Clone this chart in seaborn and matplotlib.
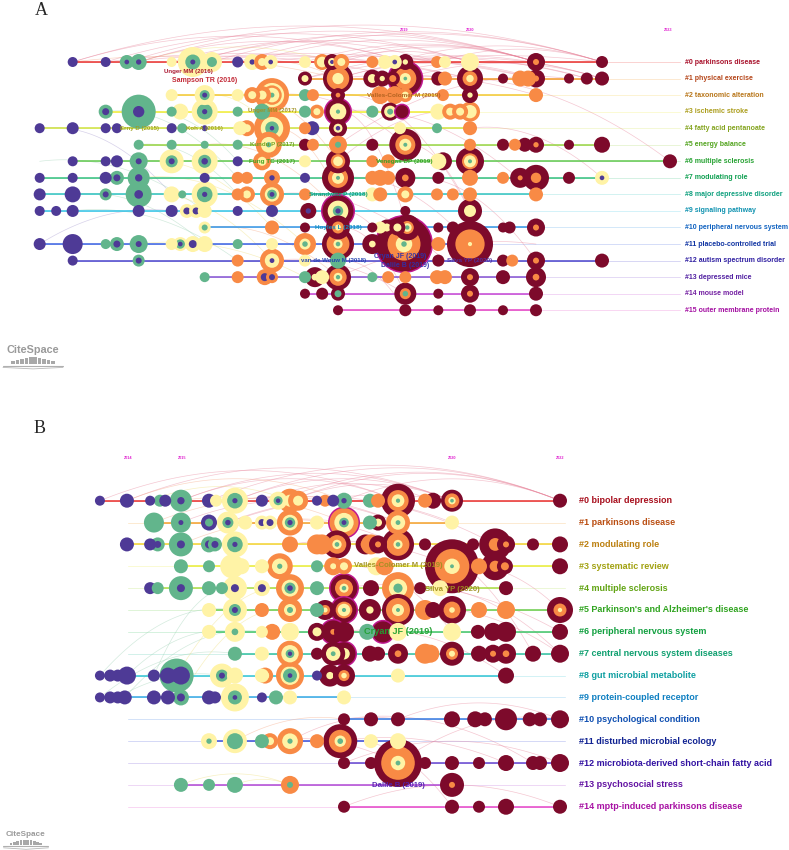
import numpy as np
import pandas as pd
import matplotlib
matplotlib.use("Agg")
import matplotlib.pyplot as plt
import seaborn as sns

sns.set_theme(style="white")
plt.rcParams["font.family"] = ["Liberation Sans", "DejaVu Sans"]

# ---------------- colours ----------------
RING_COLORS = {"P": "#4E3A96", "G": "#62B58C", "Y": "#FFF3A6", "O": "#F88A45",
               "R": "#7D0A2B", "M": "#BF1890"}
LINK_COLORS = {"P": "#A69AD0", "G": "#9ED2B5", "Y": "#EFDF7A", "O": "#F6A682", "R": "#E8839A"}

# ---------------- panel A data ----------------
A_LABELS = ["#0 parkinsons disease", "#1 physical exercise", "#2 taxonomic alteration",
            "#3 ischemic stroke", "#4 fatty acid pentanoate", "#5 energy balance",
            "#6 multiple sclerosis", "#7 modulating role", "#8 major depressive disorder",
            "#9 signaling pathway", "#10 peripheral nervous system", "#11 placebo-controlled trial",
            "#12 autism spectrum disorder", "#13 depressed mice", "#14 mouse model",
            "#15 outer membrane protein"]
A_LABEL_COLORS = ["#A8102A", "#B5461A", "#B8761A", "#AC9E1E", "#84A41E", "#52A41E",
                  "#26A232", "#10A052", "#0FA07E", "#0F92B0", "#1062C0", "#1034A2",
                  "#3020A2", "#5222A2", "#7420A2", "#A410A2"]
A_LINE_COLORS = ["#E8302E", "#F39A2B", "#F2C830", "#F0EC36", "#CFE23E", "#98D444",
                 "#62C850", "#34C07E", "#30C2C0", "#34C4E6", "#3494E4", "#3A62E2",
                 "#4A44CC", "#8452D2", "#C444D4", "#E442C4"]
A_YEARS = [2019, 2020, 2023]

# nodes: (year - 2000, radius_px, rings outer->inner)
A_N0 = [(13.98, 5, "P"), (14.48, 5, "P"), (14.80, 7, "GGP"), (14.98, 8, "GGP"), (15.48, 5, "Y"),
        (16.09, 10, "YG"), (15.80, 15, "YYYGGP"), (16.48, 5.5, "P"), (16.70, 8, "YYP"),
        (16.85, 8, "OY"), (16.98, 7, "YYP"), (17.5, 6, "Y"), (17.76, 8, "OYY"), (17.91, 8, "RRYP"),
        (18.05, 8, "OY"), (18.52, 6, "O"), (18.71, 7, "Y"), (18.86, 7, "YYP"), (19.02, 8, "RRY"),
        (19.5, 6, "O"), (19.62, 6, "Y"), (20.0, 9, "Y"), (21.0, 9, "RRO"), (22.0, 6, "R")]
A_N1 = [(17.5, 7, "RY"), (18.0, 15, "RROOOYYY"), (18.52, 9, "RY"), (18.67, 8, "RRY"), (18.83, 7, "RO"),
        (19.02, 18, "MRRROOOYYG"), (19.52, 7, "R"), (19.62, 7, "O"), (20.0, 13, "RRROOYY"),
        (20.5, 5, "R"), (20.76, 8, "O"), (20.88, 8, "O"), (21.0, 9, "RRO"), (21.5, 5, "R"),
        (21.77, 6, "R"), (22.0, 7, "R")]
A_N2 = [(15.48, 6, "Y"), (15.98, 10, "YYGP"), (16.48, 6, "Y"), (16.70, 8, "OY"), (16.85, 9, "OY"),
        (17.0, 17, "OOYOYYG"), (17.5, 6, "G"), (17.62, 6, "O"), (18.0, 7, "RRO"), (18.64, 9, "O"),
        (18.86, 9, "O"), (19.02, 7, "OY"), (19.59, 6, "O"), (20.0, 8, "RRY"), (21.0, 7, "O")]
A_N3 = [(14.48, 7, "GP"), (14.98, 17, "GGP"), (15.48, 5, "G"), (15.61, 8, "Y"), (15.98, 13, "YYGGP"),
        (16.48, 5, "G"), (16.85, 8, "G"), (17.5, 6, "G"), (17.68, 7, "OY"), (18.0, 14, "MRRYYYG"),
        (18.52, 6, "G"), (18.79, 9, "RYG"), (18.97, 8, "MRR"), (19.52, 8, "Y"), (19.70, 8, "OY"),
        (19.85, 8, "OY"), (20.0, 10, "OYY")]
A_N4 = [(13.48, 5, "P"), (13.98, 6, "P"), (14.48, 5, "P"), (14.65, 5, "P"), (15.48, 5, "P"),
        (15.64, 5, "G"), (15.98, 3, "P"), (16.52, 7, "Y"), (16.62, 8, "OY"), (17.0, 18, "OOOYYGGP"),
        (17.5, 6, "O"), (17.61, 7, "P"), (18.0, 9, "RRYP"), (18.94, 6, "Y"), (19.5, 5, "G"),
        (20.0, 7, "O")]
A_N5 = [(14.98, 5, "G"), (15.48, 5, "G"), (15.98, 4, "G"), (16.48, 5, "G"), (16.95, 13, "OOYYG"),
        (17.5, 6, "R"), (17.62, 6, "O"), (18.0, 9, "OOG"), (18.52, 6, "R"), (19.02, 16, "RRROOYYG"),
        (20.0, 6, "O"), (20.5, 6, "R"), (20.68, 6, "O"), (20.83, 7, "R"), (21.0, 8, "RRO"),
        (21.5, 5, "R"), (22.0, 8, "R")]
A_N6 = [(13.98, 5, "P"), (14.48, 5, "P"), (14.65, 6, "P"), (14.98, 9, "GGP"), (15.48, 12, "YYGP"),
        (15.98, 13, "YYGP"), (16.48, 5, "P"), (16.85, 9, "OY"), (17.5, 6, "Y"), (18.0, 12, "RROYY"),
        (18.52, 6, "O"), (18.76, 7, "O"), (19.52, 8, "Y"), (19.59, 9, "RRY"), (20.0, 14, "RRROYYG"),
        (23.03, 7, "R")]
A_N7 = [(13.48, 5, "P"), (13.98, 5, "P"), (14.48, 6, "P"), (14.65, 7, "GP"), (14.98, 11, "GGP"),
        (15.98, 5, "P"), (16.48, 6, "O"), (16.62, 6, "O"), (17.0, 8, "OOP"), (17.5, 5, "P"),
        (18.0, 16, "RRROOYYG"), (18.52, 7, "O"), (18.64, 8, "O"), (18.76, 7, "O"), (19.02, 10, "RRO"),
        (19.52, 6, "R"), (20.0, 8, "O"), (20.5, 6, "O"), (20.76, 10, "RRRO"), (21.0, 13, "RRROO"),
        (21.5, 6, "R"), (22.0, 7, "YYP")]
A_N8 = [(13.48, 6, "P"), (13.98, 8, "P"), (14.48, 6, "GP"), (14.98, 13, "GGP"), (15.48, 8, "Y"),
        (15.64, 4, "G"), (15.98, 13, "YYGGP"), (16.48, 6, "O"), (16.62, 8, "OY"), (17.0, 12, "OOYGP"),
        (17.5, 6, "O"), (18.52, 7, "Y"), (18.64, 7, "O"), (19.02, 8, "OY"), (19.5, 6, "O"),
        (19.74, 6, "O"), (20.0, 7, "O"), (21.0, 7, "O")]
A_N9 = [(13.48, 5, "P"), (13.73, 5, "P"), (13.98, 6, "P"), (14.98, 6, "P"), (15.48, 6, "P"),
        (15.71, 7, "YP"), (15.85, 7, "YP"), (15.98, 7, "Y"), (16.48, 5, "P"), (17.0, 6, "P"),
        (17.55, 8, "RRP"), (18.0, 17, "MRRYYGP"), (19.02, 5, "R"), (20.0, 12, "RRYY")]
A_N10 = [(15.98, 6, "YG"), (17.0, 7, "O"), (17.5, 5, "R"), (18.0, 12, "RROY"), (18.52, 5, "R"),
         (18.64, 6, "Y"), (18.74, 8, "RY"), (18.90, 8, "RY"), (19.05, 13, "RRROYG"), (19.52, 5, "R"),
         (19.74, 6, "R"), (20.5, 5, "R"), (20.6, 6, "R"), (21.0, 9, "RRO")]
A_N11 = [(13.48, 6, "P"), (13.98, 10, "P"), (14.48, 5, "G"), (14.65, 7, "GP"), (14.98, 9, "GGP"),
         (15.48, 6, "Y"), (15.61, 7, "YGP"), (15.80, 8, "YP"), (15.98, 8, "Y"), (16.48, 5, "G"),
         (17.0, 6, "Y"), (17.5, 11, "OOYG"), (18.0, 16, "RROOOYG"), (18.52, 10, "RRY"),
         (19.0, 29, "MRRRROOOYYG"), (19.52, 7, "O"), (20.0, 23, "RRRROOOOOOY")]
A_N12 = [(13.98, 5, "P"), (14.98, 6, "GP"), (16.48, 6, "O"), (17.0, 12, "OOYYP"), (17.5, 6, "Y"),
         (18.0, 8, "G"), (19.52, 6, "R"), (20.5, 6, "R"), (20.64, 6, "O"), (21.0, 9, "RRO"),
         (22.0, 7, "R")]
A_N13 = [(15.98, 5, "G"), (16.48, 6, "O"), (16.89, 8, "OP"), (17.0, 6, "OP"), (17.5, 6, "G"),
         (17.65, 10, "RRY"), (17.76, 7, "Y"), (18.0, 13, "RROOYG"), (18.52, 5, "G"), (18.76, 6, "O"),
         (19.02, 6, "O"), (19.5, 7, "O"), (19.62, 7, "O"), (20.0, 9, "RRO"), (20.5, 7, "R"),
         (21.0, 10, "RRO")]
A_N14 = [(17.5, 5, "R"), (17.76, 6, "R"), (18.0, 7, "RG"), (19.02, 11, "RROG"), (19.52, 5, "R"),
         (20.0, 9, "RRO"), (21.0, 7, "R")]
A_N15 = [(18.0, 5, "R"), (19.02, 6, "R"), (19.52, 5, "R"), (20.0, 6, "R"), (20.5, 5, "R"), (21.0, 6, "R")]
A_NODES = [A_N0, A_N1, A_N2, A_N3, A_N4, A_N5, A_N6, A_N7, A_N8, A_N9, A_N10, A_N11,
           A_N12, A_N13, A_N14, A_N15]

# citation links (row, year, row, year)
A_LINKS = [(0, 13.98, 0, 21.0), (0, 14.48, 0, 20.0), (0, 14.98, 0, 19.02), (0, 15.8, 0, 21.0),
           (0, 16.48, 0, 22.0), (0, 15.8, 1, 20.0), (0, 14.8, 1, 19.02), (0, 16.7, 1, 18.0),
           (0, 17.5, 0, 21.0), (0, 15.48, 1, 21.0), (0, 16.09, 0, 22.0), (0, 13.98, 1, 18.0),
           (1, 17.5, 1, 22.0), (1, 18.0, 1, 21.0), (1, 19.02, 1, 22.0), (0, 17.91, 0, 20.0),
           (0, 18.52, 1, 21.77), (1, 18.0, 2, 21.0), (0, 14.98, 0, 17.91), (0, 15.48, 0, 19.5),
           (0, 14.8, 0, 22.0), (0, 14.98, 0, 21.0), (0, 16.7, 0, 21.0), (0, 17.76, 0, 21.0),
           (0, 18.86, 0, 22.0), (0, 13.98, 0, 19.02), (0, 15.8, 0, 20.0), (1, 18.0, 1, 22.0),
           (1, 17.5, 0, 22.0), (0, 16.85, 1, 21.0), (0, 14.48, 1, 20.0), (1, 18.52, 1, 21.77),
           (0, 18.05, 0, 21.0), (0, 19.5, 0, 22.0),
           (4, 13.48, 8, 15.48), (6, 13.48, 9, 15.98), (3, 14.48, 7, 16.48), (11, 13.48, 9, 15.48),
           (8, 14.98, 12, 17.0), (5, 15.98, 9, 18.0), (2, 16.48, 6, 18.0), (3, 18.0, 10, 19.05),
           (7, 18.0, 11, 20.0), (4, 17.0, 8, 18.0), (9, 18.0, 13, 19.02), (10, 18.0, 14, 19.02),
           (6, 18.0, 3, 20.0), (5, 19.02, 9, 20.0), (12, 18.0, 15, 19.02), (2, 17.0, 5, 19.02),
           (8, 17.0, 12, 19.62), (4, 20.0, 7, 22.0), (1, 19.02, 6, 23.03), (13, 18.0, 11, 21.0),
           (3, 18.0, 8, 21.0), (2, 18.0, 9, 20.0), (7, 19.02, 12, 21.0), (5, 18.0, 1, 21.5),
           (6, 14.98, 10, 17.0), (7, 14.98, 11, 17.5), (8, 13.98, 11, 15.98), (3, 14.98, 6, 16.48),
           (9, 13.98, 12, 16.48), (5, 14.98, 8, 16.48), (11, 14.98, 13, 17.5), (10, 15.98, 13, 18.0),
           (2, 15.98, 4, 17.0), (12, 17.0, 14, 19.02)]

A_AUTHORS = ["Unger MM (2016)", "Sampson TR (2016)", "Valles-Colomer M (2019)", "Unger MM (2017)",
             "Erny D (2015)", "Koh A (2016)", "Kundu P (2017)", "Fung TC (2017)", "Venegas DP (2019)",
             "Strandwitz P (2018)", "Hoyles L (2018)", "van de Wouw M (2018)", "Cryan JF (2019)",
             "Dalile B (2019)", "Silva YP (2020)"]
A_AUTHOR_X = [15.73, 15.98, 19.0, 17.0, 15.0, 15.98, 17.0, 17.0, 19.0, 18.0, 18.0, 17.94, 18.94, 19.02, 20.0]
A_AUTHOR_ROW = [0.6, 1.09, 2.0, 2.96, 4.0, 4.0, 5.0, 6.0, 6.0, 8.0, 10.0, 12.0, 11.76, 12.3, 12.0]
A_AUTHOR_COLORS = ["#A8102A", "#C0202E", "#B0601E", "#A09020", "#A0A020", "#A0A020", "#70A020",
                   "#40A020", "#30A020", "#10A070", "#1090C0", "#2040B0", "#3030A8", "#3030A8", "#5030A0"]
A_AUTHOR_SIZES = [4.4, 5.0, 4.6, 4.4, 4.4, 4.4, 4.4, 4.6, 4.6, 4.6, 4.6, 4.4, 5.0, 5.0, 4.6]

# ---------------- panel B data ----------------
B_LABELS = ["#0 bipolar depression", "#1 parkinsons disease", "#2 modulating role",
            "#3 systematic review", "#4 multiple sclerosis", "#5 Parkinson's and Alzheimer's disease",
            "#6 peripheral nervous system", "#7 central nervous system diseases",
            "#8 gut microbial metabolite", "#9 protein-coupled receptor", "#10 psychological condition",
            "#11 disturbed microbial ecology", "#12 microbiota-derived short-chain fatty acid",
            "#13 psychosocial stress", "#14 mptp-induced parkinsons disease"]
B_LABEL_COLORS = ["#A8101E", "#BA4E12", "#BC8010", "#A2A212", "#62A414", "#30A420", "#12A040",
                  "#10A070", "#10A0A2", "#1080C2", "#1050B2", "#102292", "#3212A2", "#6212A2", "#A812A4"]
B_LINE_COLORS = ["#E8302E", "#F3A02B", "#F2D230", "#E8EC36", "#A8DC42", "#6ACC4A", "#40C468",
                 "#30C0A0", "#30C4D4", "#34A8E4", "#3478E0", "#3A50D8", "#6444D0", "#B048D4", "#E444C8"]
B_YEARS = [2014, 2015, 2020, 2022]

B_N0 = [(13.48, 5, "P"), (13.98, 7, "P"), (14.41, 5, "P"), (14.59, 6, "G"), (14.69, 6, "P"),
        (14.98, 11, "GGP"), (15.5, 7, "P"), (15.63, 6, "Y"), (15.98, 13, "YYGGP"), (16.48, 6, "P"),
        (16.78, 9, "YYGP"), (17.0, 12, "OOYY"), (17.15, 10, "OY"), (17.5, 5, "P"), (17.65, 6, "O"),
        (17.8, 6, "P"), (18.0, 8, "GGP"), (18.48, 7, "G"), (18.63, 7, "O"), (19.0, 17, "RRROOYYG"),
        (19.5, 7, "O"), (19.65, 8, "R"), (20.0, 11, "RROOYG"), (22.0, 7, "R")]
B_N1 = [(14.48, 10, "G"), (14.98, 10, "GGGP"), (15.5, 8, "PG"), (15.85, 11, "YYGP"), (16.17, 7, "Y"),
        (16.48, 7, "YP"), (16.63, 7, "YP"), (17.0, 13, "OOYGP"), (17.5, 7, "Y"), (18.0, 16, "MOOYYGP"),
        (18.48, 7, "G"), (18.63, 8, "RY"), (19.0, 12, "OOYYG"), (20.0, 7, "Y")]
B_N2 = [(13.98, 7, "P"), (14.41, 6, "P"), (14.55, 7, "GP"), (14.98, 12, "GGP"), (15.5, 8, "GP"),
        (15.61, 7, "GP"), (15.98, 13, "YYGGP"), (17.0, 8, "O"), (17.5, 10, "O"), (17.59, 10, "O"),
        (17.87, 14, "RROOYG"), (18.4, 10, "RO"), (18.5, 10, "O"), (18.63, 9, "RRO"),
        (19.0, 16, "RROOOYG"), (19.5, 6, "R"), (20.39, 6, "R"), (20.8, 16, "RRROO"), (21.0, 9, "RRO"),
        (21.5, 6, "R"), (22.0, 8, "R")]
B_N3 = [(14.98, 7, "G"), (15.5, 6, "G"), (15.93, 12, "Y"), (16.1, 8, "Y"), (16.48, 7, "Y"),
        (16.81, 13, "OOYYG"), (17.5, 6, "G"), (17.8, 9, "OOY"), (18.0, 8, "OY"), (18.6, 9, "Y"),
        (18.75, 9, "O"), (20.0, 27, "RRRRROOOOOYYYG"), (20.5, 8, "O"), (20.8, 14, "RRROO"),
        (20.98, 8, "RO"), (22.0, 8, "R")]
B_N4 = [(14.41, 6, "P"), (14.55, 6, "G"), (14.98, 12, "GGP"), (15.5, 7, "G"), (15.74, 6, "G"),
        (15.98, 12, "YYP"), (16.48, 8, "YP"), (17.0, 14, "OOYGP"), (17.5, 7, "G"), (18.0, 15, "MRROOYG"),
        (18.5, 8, "R"), (19.0, 16, "OOOYYGG"), (19.41, 6, "R"), (19.78, 8, "Y"), (21.0, 7, "R")]
B_N5 = [(15.5, 7, "Y"), (15.98, 12, "YYGP"), (16.48, 7, "O"), (17.0, 12, "OOYG"), (17.5, 7, "G"),
        (17.65, 10, "RROY"), (18.0, 14, "MRROYYG"), (18.48, 11, "RRY"), (19.0, 16, "RROOOYYG"),
        (19.5, 10, "O"), (19.65, 8, "R"), (20.0, 14, "RROOY"), (20.5, 8, "O"), (21.0, 9, "O"),
        (22.0, 13, "RRROOY")]
B_N6 = [(15.5, 7, "Y"), (15.98, 10, "YYG"), (16.48, 6, "Y"), (16.67, 8, "O"), (17.0, 9, "Y"),
        (17.5, 9, "RY"), (17.8, 13, "MRRRO"), (18.0, 10, "R"), (18.43, 8, "G"), (18.72, 12, "MRR"),
        (19.0, 9, "Y"), (20.0, 9, "Y"), (20.48, 7, "R"), (20.76, 9, "R"), (21.0, 10, "R"), (22.0, 8, "R")]
B_N7 = [(15.98, 7, "G"), (16.48, 7, "Y"), (17.0, 13, "OOYYGP"), (17.5, 6, "R"), (17.8, 12, "RRYYG"),
        (18.0, 13, "MRRYY"), (18.48, 8, "R"), (18.63, 7, "R"), (19.0, 10, "RRO"), (19.5, 10, "O"),
        (19.6, 9, "O"), (20.0, 12, "RROY"), (20.5, 8, "R"), (20.76, 9, "RRO"), (21.0, 10, "RRO"),
        (21.5, 8, "R"), (22.0, 9, "R")]
B_N8 = [(13.48, 5, "P"), (13.67, 6, "P"), (13.81, 6, "P"), (13.98, 9, "P"), (14.48, 6, "P"),
        (14.9, 17, "GGGPP"), (14.74, 8, "P"), (14.98, 9, "P"), (15.74, 12, "YYGP"), (15.98, 8, "Y"),
        (16.48, 7, "Y"), (16.54, 8, "OY"), (17.0, 14, "OOYGGP"), (17.5, 5, "P"), (17.74, 11, "RRY"),
        (18.0, 11, "RROY"), (19.0, 7, "Y"), (21.0, 8, "R")]
B_N9 = [(13.48, 5, "P"), (13.67, 6, "P"), (13.81, 6, "P"), (13.94, 7, "P"), (14.48, 7, "P"),
        (14.74, 7, "P"), (14.98, 8, "GP"), (15.5, 7, "P"), (15.61, 6, "P"), (15.98, 14, "YYYGGP"),
        (16.48, 5, "P"), (16.74, 7, "G"), (17.0, 7, "Y"), (18.0, 7, "Y")]
B_N10 = [(18.0, 6, "R"), (18.5, 7, "R"), (19.0, 7, "R"), (20.0, 8, "R"), (20.43, 8, "R"),
         (20.61, 7, "R"), (21.0, 11, "R"), (21.44, 7, "R"), (21.63, 7, "R"), (22.0, 9, "R")]
B_N11 = [(15.5, 8, "YYG"), (15.98, 12, "YGG"), (16.48, 7, "G"), (16.63, 8, "OY"), (17.0, 13, "OOYYG"),
         (17.5, 7, "O"), (17.93, 17, "RROOYG"), (18.5, 7, "Y"), (19.0, 8, "Y")]
B_N12 = [(18.0, 6, "R"), (18.5, 6, "R"), (19.0, 24, "RRROOOOYYG"), (19.5, 6, "R"), (20.0, 7, "R"),
         (20.5, 6, "R"), (21.0, 8, "R"), (21.5, 7, "R"), (21.63, 7, "R"), (22.0, 9, "R")]
B_N13 = [(14.98, 7, "G"), (15.5, 6, "G"), (15.98, 8, "G"), (17.0, 9, "OOG"), (20.0, 12, "RRRO")]
B_N14 = [(18.0, 6, "R"), (20.0, 7, "R"), (20.5, 6, "R"), (21.0, 8, "R"), (22.0, 7, "R")]
B_NODES = [B_N0, B_N1, B_N2, B_N3, B_N4, B_N5, B_N6, B_N7, B_N8, B_N9, B_N10, B_N11, B_N12, B_N13, B_N14]

B_LINKS = [(0, 13.48, 0, 19.0), (0, 13.98, 0, 20.0), (0, 14.98, 0, 19.0), (0, 15.98, 0, 20.0),
           (0, 14.98, 1, 18.0), (0, 15.5, 0, 22.0), (0, 16.78, 0, 22.0), (0, 17.0, 0, 20.0),
           (1, 14.48, 0, 18.0), (0, 15.98, 1, 19.0), (0, 18.0, 0, 22.0), (1, 16.48, 2, 19.0),
           (0, 16.48, 2, 20.8), (2, 17.0, 3, 20.0), (0, 14.41, 0, 17.0), (1, 15.85, 1, 20.0),
           (0, 13.98, 0, 18.0), (0, 14.98, 0, 20.0), (0, 15.98, 0, 22.0), (0, 17.0, 0, 22.0),
           (1, 14.98, 1, 19.0), (1, 15.85, 0, 20.0), (0, 16.48, 0, 19.65), (2, 14.98, 1, 18.0),
           (8, 13.48, 5, 15.98), (8, 13.98, 6, 15.98), (9, 13.48, 7, 15.98), (8, 14.48, 4, 15.98),
           (9, 14.98, 5, 17.0), (11, 15.98, 10, 18.0), (11, 17.0, 10, 19.0), (11, 17.93, 12, 21.0),
           (12, 19.0, 10, 22.0), (13, 14.98, 13, 17.0), (13, 15.98, 13, 17.0), (5, 19.0, 7, 22.0),
           (4, 18.0, 6, 22.0), (3, 20.0, 5, 22.0), (2, 19.0, 7, 21.5), (11, 17.93, 14, 20.0),
           (10, 18.0, 12, 21.5), (6, 18.0, 8, 21.0), (3, 17.8, 6, 20.0), (4, 19.0, 7, 22.0),
           (9, 13.81, 8, 15.74), (8, 14.9, 4, 17.0), (9, 13.94, 6, 16.48), (10, 19.0, 10, 22.0),
           (12, 18.0, 12, 22.0), (11, 16.48, 12, 19.0), (14, 18.0, 14, 22.0)]

B_AUTHORS = ["Valles-Colomer M (2019)", "Silva YP (2020)", "Cryan JF (2019)", "Dalile B (2019)"]
B_AUTHOR_X = [19.0, 20.0, 19.0, 19.0]
B_AUTHOR_ROW = [2.95, 4.04, 6.0, 13.05]
B_AUTHOR_COLORS = ["#A09020", "#A09020", "#20A030", "#5020B0"]
B_AUTHOR_SIZES = [5.6, 5.6, 6.6, 5.6]

# ---------------- helpers ----------------
FIG_W, FIG_H, DPI = 789, 850, 100


def year_key(y):
    if y < 15.5:
        return "P"
    if y < 16.5:
        return "G"
    if y < 18.0:
        return "Y"
    if y < 19.0:
        return "O"
    return "R"


def build_discs(nodes_per_row):
    allnodes = []
    for row, nodes in enumerate(nodes_per_row):
        for (x, r, rings) in nodes:
            allnodes.append((row, x, r, rings))
    allnodes.sort(key=lambda t: -t[2])
    recs = []
    for row, x, r, rings in allnodes:
        rr = r
        if rings.startswith("M"):
            recs.append((2000 + x, row, rr, "M"))
            rr -= 1.5
            rings = rings[1:]
        n = len(rings)
        prev = None
        for k, c in enumerate(rings):
            if c != prev:
                recs.append((2000 + x, row, rr * (n - k) / n, c))
            prev = c
    df = pd.DataFrame(recs, columns=["x", "y", "r", "c"])
    df["s"] = (2 * df["r"] * 72 / DPI) ** 2
    return df


def draw_panel(ax, nodes, labels, label_colors, line_colors, links, k_same, k_cross,
               faint_start, faint_end, label_x, label_size):
    for row, nl in enumerate(nodes):
        xs = [2000 + n[0] for n in nl]
        fs = min(xs) if faint_start is None else min(faint_start, min(xs))
        ax.plot([fs, faint_end], [row, row], color=line_colors[row], lw=0.7, alpha=0.22, zorder=1)
        ax.plot([min(xs), max(xs)], [row, row], color=line_colors[row], lw=1.1, zorder=3)
        ax.text(label_x, row, labels[row], color=label_colors[row], fontsize=label_size,
                fontweight="bold", ha="left", va="center", zorder=8)
    t = np.linspace(0, 1, 50)
    for (r1, x1, r2, x2) in links:
        X1, X2 = 2000 + x1, 2000 + x2
        h = (k_same if r1 == r2 else k_cross) * abs(X2 - X1)
        xm, ym = (X1 + X2) / 2, min(r1, r2) - h
        bx = (1 - t) ** 2 * X1 + 2 * (1 - t) * t * xm + t ** 2 * X2
        by = (1 - t) ** 2 * r1 + 2 * (1 - t) * t * ym + t ** 2 * r2
        ax.plot(bx, by, color=LINK_COLORS[year_key(max(x1, x2))], lw=0.5, alpha=0.45, zorder=2)
    df = build_discs(nodes)
    sns.scatterplot(data=df, x="x", y="y", hue="c", palette=RING_COLORS, s=df["s"].values,
                    linewidth=0, edgecolor="none", legend=False, ax=ax, zorder=5)
    ax.set_axis_off()


fig = plt.figure(figsize=(FIG_W / DPI, FIG_H / DPI), dpi=DPI)
fig.patch.set_facecolor("white")

# ---- panel A axes: pixel rows 0..380 ----
axA = fig.add_axes([0, 1 - 380 / FIG_H, 1, 380 / FIG_H])
A_PX_YEAR, A_X0 = 66.0, 470.0
A_ROW_PX, A_Y0 = 16.55, 62.0
draw_panel(axA, A_NODES, A_LABELS, A_LABEL_COLORS, A_LINE_COLORS, A_LINKS, 0.62, 0.25,
           None, 2023.18, 2020 + (685 - A_X0) / A_PX_YEAR, 5.0)
axA.set_xlim(2020 - A_X0 / A_PX_YEAR, 2020 + (FIG_W - A_X0) / A_PX_YEAR)
axA.set_ylim((380 - A_Y0) / A_ROW_PX, -A_Y0 / A_ROW_PX)
for yv in A_YEARS:
    axA.text(yv, (30 - A_Y0) / A_ROW_PX, str(yv), color="#E020D0", fontsize=2.8,
             fontweight="bold", ha="center", va="center")
for name, x, rw, c, fs in zip(A_AUTHORS, A_AUTHOR_X, A_AUTHOR_ROW, A_AUTHOR_COLORS, A_AUTHOR_SIZES):
    axA.text(2000 + x, rw, name, color=c, fontsize=fs, fontweight="bold", ha="center",
             va="center", zorder=9, alpha=0.95)

# ---- panel B axes: pixel rows 380..850 ----
axB = fig.add_axes([0, 0, 1, 470 / FIG_H])
B_PX_YEAR, B_X0 = 54.0, 452.0
B_ROW_PX, B_Y0 = 21.86, 500.7
draw_panel(axB, B_NODES, B_LABELS, B_LABEL_COLORS, B_LINE_COLORS, B_LINKS, 0.5, 0.2,
           2014.0, 2022.1, 2020 + (579 - B_X0) / B_PX_YEAR, 6.5)
axB.set_xlim(2020 - B_X0 / B_PX_YEAR, 2020 + (FIG_W - B_X0) / B_PX_YEAR)
axB.set_ylim((850 - B_Y0) / B_ROW_PX, (380 - B_Y0) / B_ROW_PX)
for yv in B_YEARS:
    axB.text(yv, (458 - B_Y0) / B_ROW_PX, str(yv), color="#E020D0", fontsize=2.8,
             fontweight="bold", ha="center", va="center")
for name, x, rw, c, fs in zip(B_AUTHORS, B_AUTHOR_X, B_AUTHOR_ROW, B_AUTHOR_COLORS, B_AUTHOR_SIZES):
    axB.text(2000 + x, rw, name, color=c, fontsize=fs, fontweight="bold", ha="center",
             va="center", zorder=9, alpha=0.95)

# ---- overlay: panel letters and CiteSpace logos ----
ov = fig.add_axes([0, 0, 1, 1], zorder=10)
ov.set_xlim(0, FIG_W)
ov.set_ylim(FIG_H, 0)
ov.set_axis_off()
ov.patch.set_alpha(0)
ov.text(41, 10, "A", fontsize=13, family=["Liberation Serif", "DejaVu Serif"], ha="center", va="center")
ov.text(40, 428, "B", fontsize=13, family=["Liberation Serif", "DejaVu Serif"], ha="center", va="center")


def logo(cx, cy, w):
    ov.text(cx, cy, "CiteSpace", fontsize=w * 0.13, color="#9A9A9A", fontweight="bold",
            ha="center", va="center")
    hs = np.array([3, 4, 5, 6, 7, 7, 6, 5, 4, 3]) * w / 60
    xs = cx + np.linspace(-w * 0.33, w * 0.33, len(hs))
    base = cy + w * 0.24
    ov.bar(xs, -hs, width=w * 0.06, bottom=base, color="#A8A8A8", edgecolor="none")
    ov.plot([cx - w / 2, cx + w / 2], [base + 1.5, base + 1.5], color="#B0B0B0", lw=0.8)
    ov.plot([cx - w / 2, cx, cx + w / 2], [base + 3.0, base + 4.5, base + 3.0], color="#B8B8B8", lw=0.6)


logo(33, 350, 60)
logo(26, 834, 45)

fig.savefig("out.png", dpi=DPI, facecolor="white")
